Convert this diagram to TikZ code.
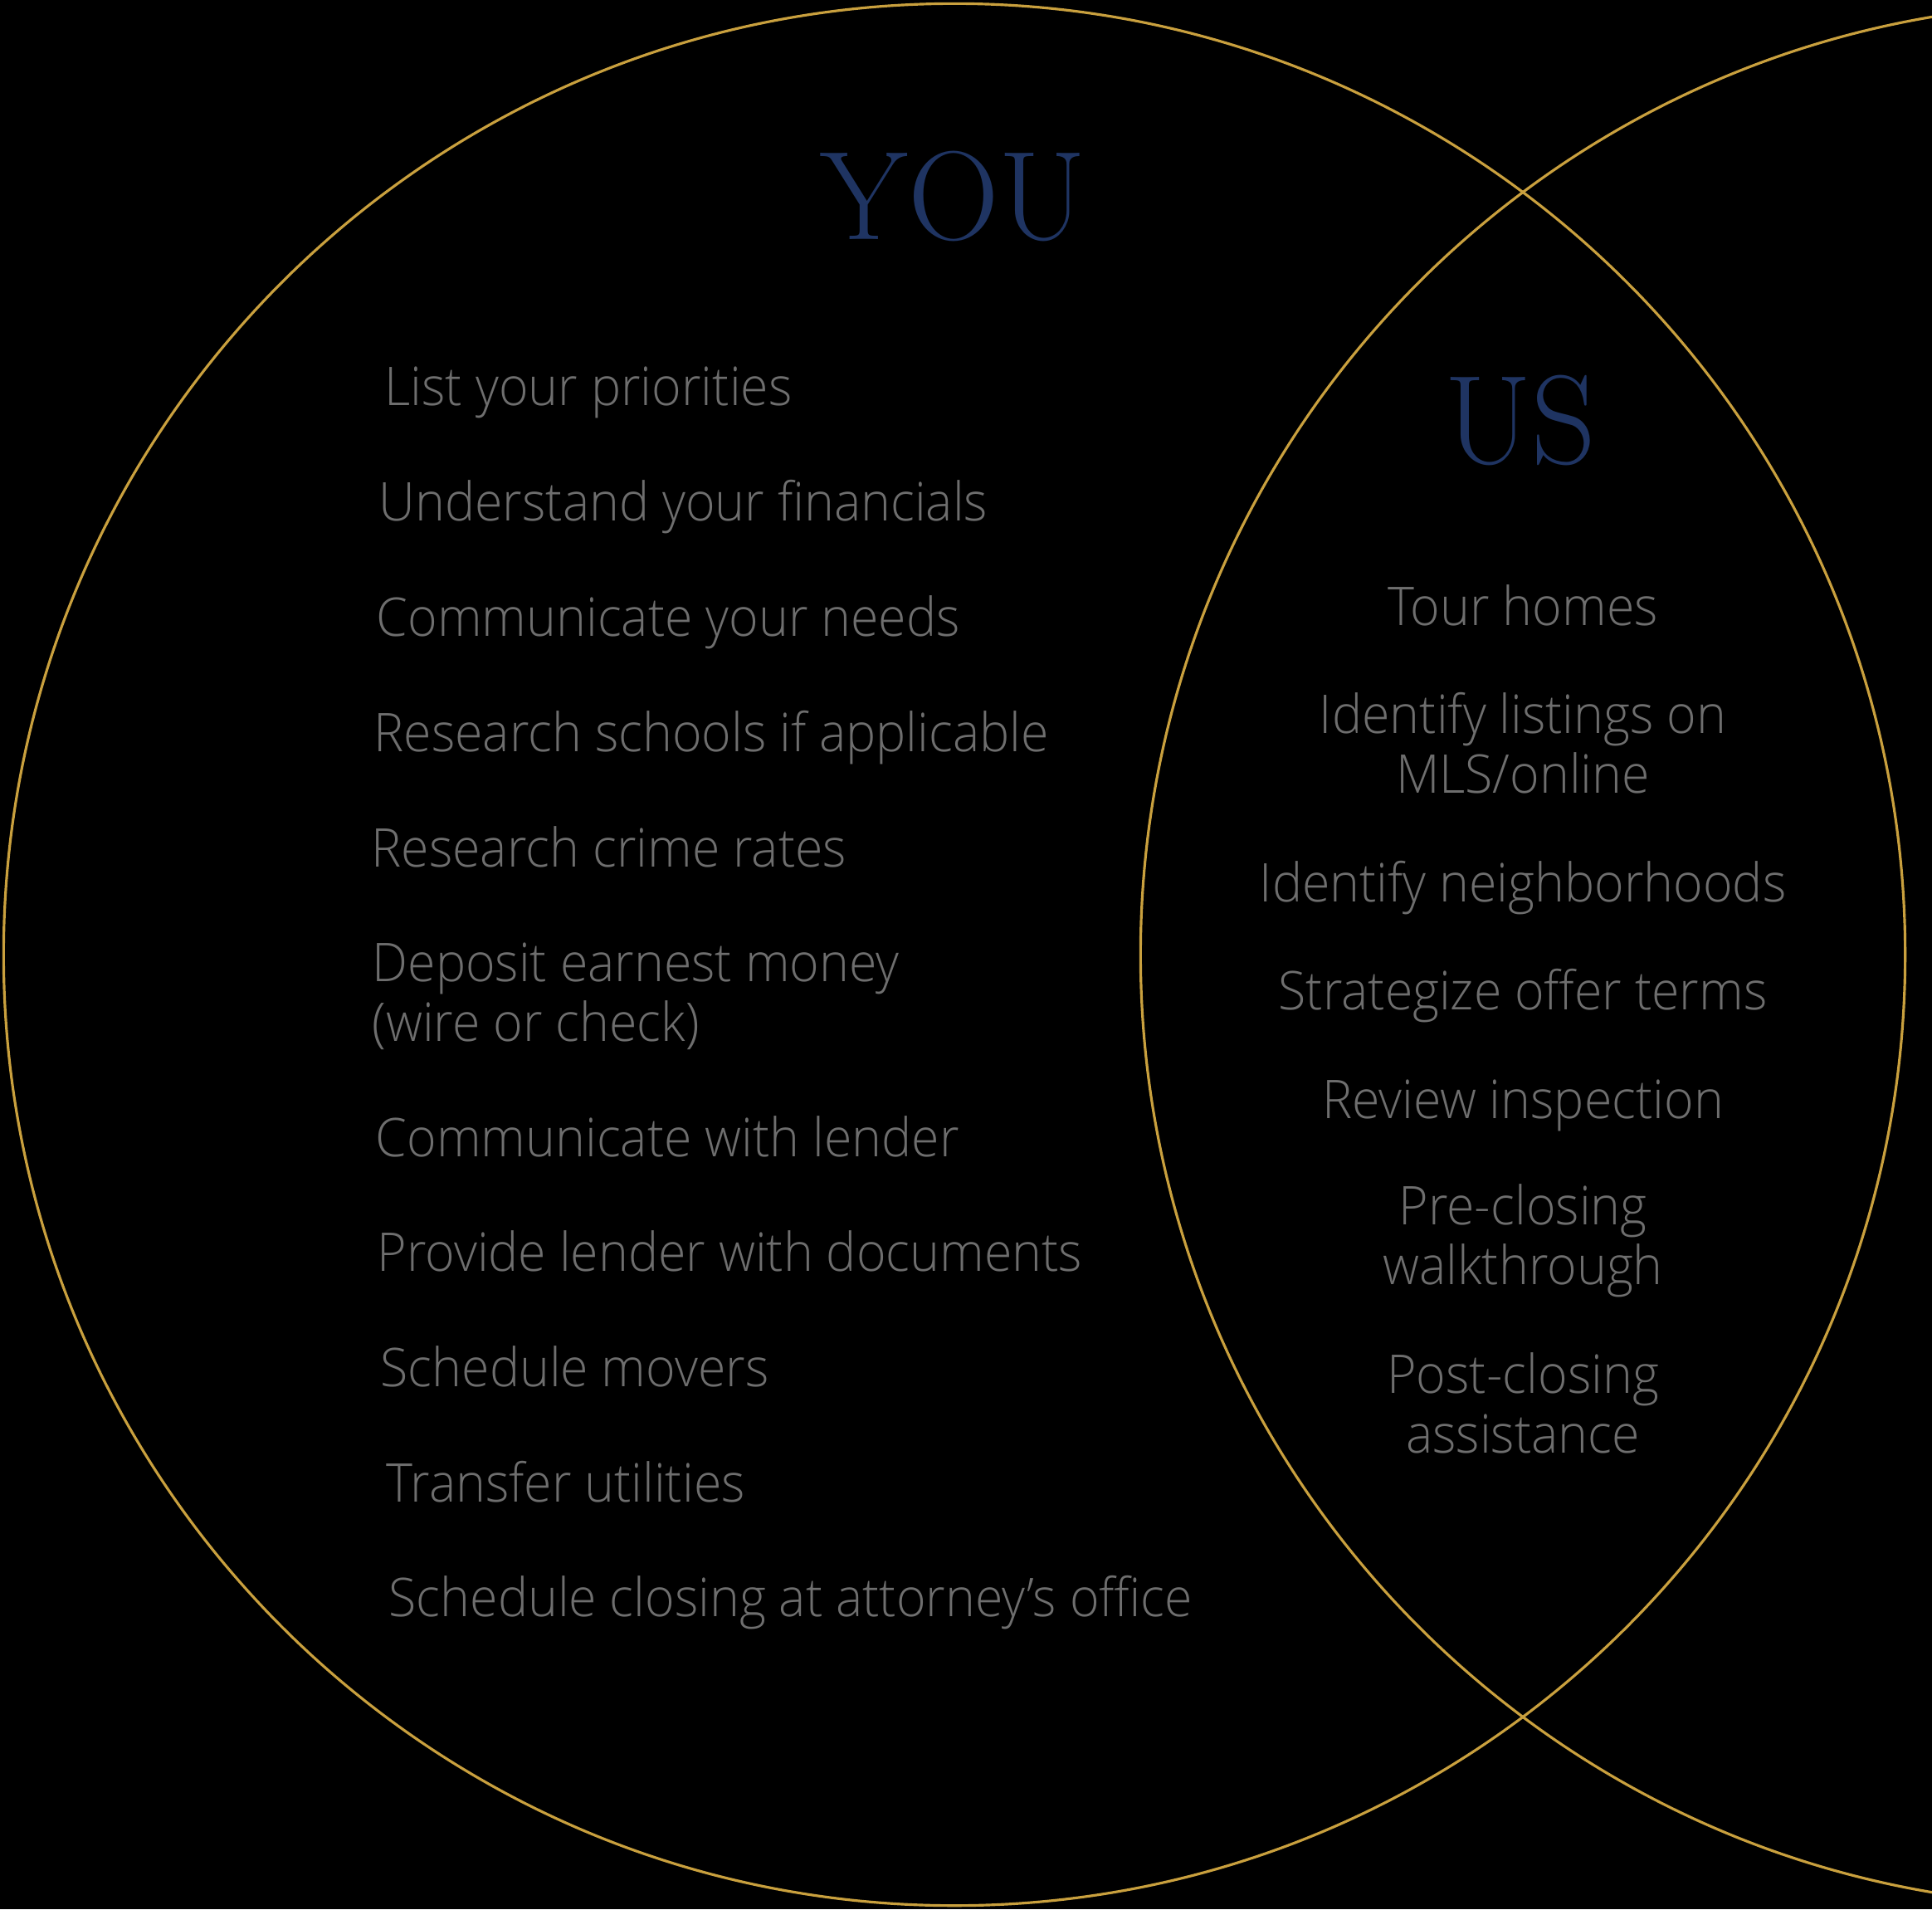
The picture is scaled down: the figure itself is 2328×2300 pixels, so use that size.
\documentclass[tikz,border=0pt]{standalone}
\usepackage{fontspec}
\usepackage{tikz}
\setmainfont{Open Sans}[UprightFont={* Light}, FakeStretch=0.945]
\newfontfamily\titlefont{Latin Modern Roman}
\usetikzlibrary{positioning}
\definecolor{vennGold}{HTML}{C9A03E}
\definecolor{vennNavy}{HTML}{1F3462}
\definecolor{vennGray}{HTML}{6E6E6E}

\begin{document}
\begin{tikzpicture}[
    x=0.01cm, y=-0.01cm,
    ring/.style={draw=vennGold, line width=0.9pt, circle, inner sep=0pt, minimum size=22.9cm},
    title/.style={text=vennNavy, inner sep=0pt, anchor=base, font=\titlefont\fontsize{43.3}{44}\selectfont},
    youitem/.style={text=vennGray, inner sep=0pt, anchor=base west, align=left, font=\fontsize{18.3}{20.2}\selectfont},
    usitem/.style={text=vennGray, inner sep=0pt, anchor=base, align=center, font=\fontsize{18.3}{20.2}\selectfont},
]
    \clip (0,0) rectangle (2328,2300);
    \fill[black] (0,0) rectangle (2328,2300);

    % Circles
    \node[ring] (youring) at (1150,1150) {};
    \node[ring] (usring) at (2520,1150) {};

    % Titles
    \node[title] (youtitle) at (1149,288) {YOU};
    \node[title] (ustitle) at (1832,558) {US};

    % YOU column (base = last line)
    \node[youitem] (y1) at (463,488) {List your priorities};
    \node[youitem] (y2) at (456,627) {Understand your financials};
    \node[youitem] (y3) at (453,766) {Communicate your needs};
    \node[youitem] (y4) at (450,905) {Research schools if applicable};
    \node[youitem] (y5) at (447,1044) {Research crime rates};
    \node[youitem] (y6) at (448,1254) {Deposit earnest money\\(wire or check)};
    \node[youitem] (y7) at (452,1393) {Communicate with lender};
    \node[youitem] (y8) at (454,1531) {Provide lender with documents};
    \node[youitem] (y9) at (458,1670) {Schedule movers};
    \node[youitem] (y10) at (465,1809) {Transfer utilities};
    \node[youitem] (y11) at (468,1947) {Schedule closing at attorney’s office};

    % US column
    \node[usitem] (u1) at (1835,753) {Tour homes};
    \node[usitem] (u2) at (1835,955) {Identify listings on\\MLS/online};
    \node[usitem] (u3) at (1835,1086) {Identify neighborhoods};
    \node[usitem] (u4) at (1835,1216) {Strategize offer terms};
    \node[usitem] (u5) at (1835,1347) {Review inspection};
    \node[usitem] (u6) at (1835,1547) {Pre-closing\\walkthrough};
    \node[usitem] (u7) at (1835,1750) {Post-closing\\assistance};
\end{tikzpicture}
\end{document}
